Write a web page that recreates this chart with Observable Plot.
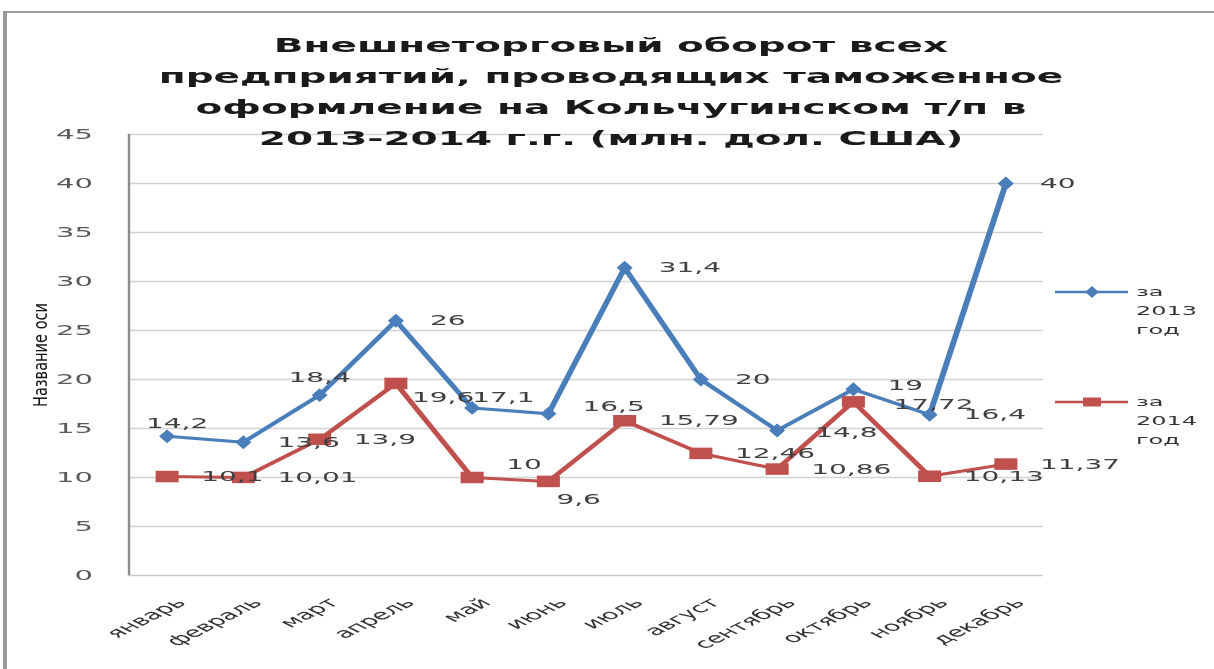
<!DOCTYPE html>
<html>
<head>
<meta charset="utf-8">
<script src="https://cdn.jsdelivr.net/npm/d3@7"></script>
<script src="https://cdn.jsdelivr.net/npm/@observablehq/plot@0.6"></script>
<style>
  html, body { margin: 0; padding: 0; background: #fff; overflow: hidden; }
  #stage { position: relative; width: 607px; height: 669px; transform: scaleX(2); transform-origin: 0 0; }
  #title { position: absolute; left: 2px; width: 607px; top: 30px; text-align: center;
           font-family: "DejaVu Sans", sans-serif; font-weight: bold; font-size: 19.5px; line-height: 31px; color: #1a1a1a; }
  #stage svg { position: absolute; left: 0; top: 0; }
</style>
</head>
<body>
<div id="stage">
  <div id="title">Внешнеторговый оборот всех<br>предприятий, проводящих таможенное<br>оформление на Кольчугинском т/п в<br>2013-2014 г.г. (млн. дол. США)</div>
</div>
<script>
// ---- data ----
const months = ["январь","февраль","март","апрель","май","июнь","июль","август","сентябрь","октябрь","ноябрь","декабрь"];
const values2013 = [14.2, 13.6, 18.4, 26, 17.1, 16.5, 31.4, 20, 14.8, 19, 16.4, 40];
const values2014 = [10.1, 10.01, 13.9, 19.6, 10, 9.6, 15.79, 12.46, 10.86, 17.72, 10.13, 11.37];
const seriesNames = ["за 2013 год", "за 2014 год"];
const yTicks = [0, 5, 10, 15, 20, 25, 30, 35, 40, 45];
const yAxisTitle = "Название оси";

// ---- styling / label placement (not data) ----
const colors = ["#4a7ebb", "#c0504d"];
const defaultPlace = {dx: 17, dy: 0, anchor: "start"};
const place2013 = {
  "январь": {dx: 5, dy: -13, anchor: "middle"},
  "март": {dx: 0, dy: -18, anchor: "middle"},
  "май": {dx: 0, dy: -10, anchor: "start"},
  "июнь": {dx: 17, dy: -7, anchor: "start"},
  "сентябрь": {dx: 19, dy: 2, anchor: "start"},
  "октябрь": {dx: 17, dy: -4, anchor: "start"}
};
const place2014 = {
  "апрель": {dx: 8, dy: 14, anchor: "start"},
  "май": {dx: 17, dy: -13, anchor: "start"},
  "июнь": {dx: 4, dy: 18, anchor: "start"},
  "октябрь": {dx: 20, dy: 3, anchor: "start"}
};

const fmt = v => String(v).replace(".", ",");
const rows2013 = months.map((m, i) => ({i: i + 0.5, month: m, value: values2013[i]}));
const rows2014 = months.map((m, i) => ({i: i + 0.5, month: m, value: values2014[i]}));

function labelMarks(rows, places) {
  return rows.map(r => {
    const p = places[r.month] || defaultPlace;
    return Plot.text([r], {x: "i", y: "value", text: d => fmt(d.value), dx: p.dx, dy: p.dy,
      textAnchor: p.anchor, fontSize: 14, fill: "#404040"});
  });
}

const chart = Plot.plot({
  width: 607,
  height: 669,
  marginLeft: 64,
  marginRight: 85.5,
  marginTop: 134,
  marginBottom: 94,
  style: {fontFamily: "DejaVu Sans, sans-serif", background: "transparent", overflow: "visible"},
  x: {domain: [0, 12]},
  y: {domain: [0, 45]},
  marks: [
    Plot.ruleY(yTicks.filter(t => t > 0), {stroke: "#d2d2d2", strokeWidth: 1.5}),
    Plot.ruleY([0], {stroke: "#cbcbcb", strokeWidth: 1.5}),
    Plot.ruleX([0], {stroke: "#8c8c8c", strokeWidth: 1.2}),
    Plot.axisY({ticks: yTicks, tickSize: 0, tickPadding: 18, fontSize: 14.5, fill: "#595959", label: null}),
    Plot.axisX({ticks: months.map((m, i) => i + 0.5), tickFormat: d => months[Math.floor(d)],
      tickSize: 0, tickPadding: 17, tickRotate: -45, dx: 7, dy: 8, fontSize: 13.5, fill: "#333", label: null}),
    Plot.text([yAxisTitle], {frameAnchor: "left", dx: -44, rotate: -90, fontSize: 10, fill: "#111"}),
    Plot.line(rows2013, {x: "i", y: "value", stroke: colors[0], strokeWidth: 3}),
    Plot.dot(rows2013, {x: "i", y: "value", symbol: "diamond", r: 3.6, fill: colors[0], stroke: colors[0], strokeWidth: 1}),
    Plot.line(rows2014, {x: "i", y: "value", stroke: colors[1], strokeWidth: 3}),
    Plot.dot(rows2014, {x: "i", y: "value", symbol: "square", r: 6.5, fill: colors[1], stroke: "none"}),
    ...labelMarks(rows2013, place2013),
    ...labelMarks(rows2014, place2014)
  ]
});

const stage = document.getElementById("stage");
stage.insertBefore(chart, stage.firstChild);

// stretch the y axis title like the original, keeping it centred on the frame
d3.select(chart).selectAll("text").filter(function() { return this.textContent === yAxisTitle; })
  .attr("text-anchor", "start").attr("x", -52)
  .attr("textLength", 104).attr("lengthAdjust", "spacingAndGlyphs");

// frame + legend overlay
const ov = d3.select(stage).append("svg").attr("width", 607).attr("height", 669)
  .style("overflow", "visible");
ov.append("path").attr("d", "M2.5,700 V12 H620").attr("fill", "none").attr("stroke", "#9a9a9a").attr("stroke-width", 2);

const legendY = [292, 402];
seriesNames.forEach((name, k) => {
  const g = ov.append("g");
  const y = legendY[k];
  g.append("line").attr("x1", 527.5).attr("x2", 564).attr("y1", y).attr("y2", y)
    .attr("stroke", colors[k]).attr("stroke-width", 2.5);
  if (k === 0) {
    g.append("path").attr("d", d3.symbol(d3.symbolDiamond, 40)()).attr("transform", `translate(546,${y})`).attr("fill", colors[k]);
  } else {
    g.append("rect").attr("x", 541.5).attr("y", y - 4.5).attr("width", 9).attr("height", 9).attr("fill", colors[k]);
  }
  const parts = name.split(" ");
  const t = g.append("text").attr("x", 568).attr("y", y + 4)
    .attr("font-family", "DejaVu Sans, sans-serif").attr("font-size", 12).attr("fill", "#333");
  parts.forEach((p, j) => t.append("tspan").attr("x", 568).attr("dy", j === 0 ? 0 : 19).text(p));
});
</script>
</body>
</html>
